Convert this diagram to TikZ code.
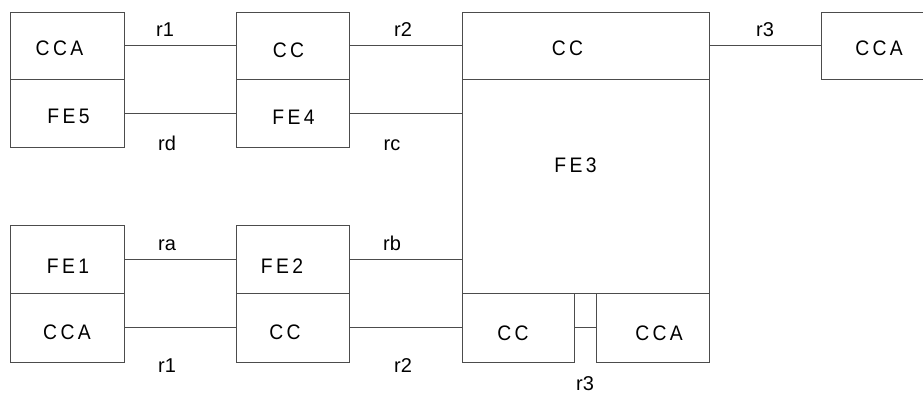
\documentclass[tikz,border=0pt]{standalone}
\usepackage{fontspec}
\setmainfont{Liberation Sans}
\newfontfamily\boxfont[LetterSpace=16,FakeStretch=0.92]{Liberation Sans}
\usetikzlibrary{calc}
\begin{document}
\begin{tikzpicture}[x=1pt,y=-1pt,
  box/.style={draw=black!70,line width=0.9pt,rectangle,inner sep=0pt,outer sep=0pt},
  wire/.style={draw=black!70,line width=0.9pt},
  btxt/.style={anchor=base,inner sep=0pt,font=\fontsize{21}{24}\boxfont},
  rtxt/.style={anchor=base,inner sep=0pt,font=\fontsize{20}{24}\selectfont}]
\useasboundingbox (0,0) rectangle (923,394);
\clip (0,0) rectangle (923,394);
\fill[white] (0,0) rectangle (923,394);
% boxes
\node[box,minimum width=114pt,minimum height=67pt] (cca1) at (67,45.5) {};
\node[box,minimum width=114pt,minimum height=68pt] (fe5) at (67,113) {};
\node[box,minimum width=113pt,minimum height=67pt] (cc1) at (292.5,45.5) {};
\node[box,minimum width=113pt,minimum height=68pt] (fe4) at (292.5,113) {};
\node[box,minimum width=114pt,minimum height=68pt] (fe1) at (67,259) {};
\node[box,minimum width=114pt,minimum height=69pt] (cca2) at (67,327.5) {};
\node[box,minimum width=113pt,minimum height=68pt] (fe2) at (292.5,259) {};
\node[box,minimum width=113pt,minimum height=69pt] (cc2) at (292.5,327.5) {};
\node[box,minimum width=247pt,minimum height=67pt] (bigcc) at (585.5,45.5) {};
\node[box,minimum width=247pt,minimum height=214pt] (fe3) at (585.5,186) {};
\node[box,minimum width=112pt,minimum height=69pt] (cc3) at (518,327.5) {};
\node[box,minimum width=113pt,minimum height=69pt] (cca3) at (652.5,327.5) {};
\node[box,minimum width=114pt,minimum height=67pt] (cca4) at (878,45.5) {};
% box texts
\node[btxt] (tcca1) at (59.5,55) {CCA};
\node[btxt] (tfe5) at (68.5,123) {FE5};
\node[btxt] (tcc1) at (288.5,57) {CC};
\node[btxt] (tfe4) at (293.5,124) {FE4};
\node[btxt] (tfe1) at (68,273) {FE1};
\node[btxt] (tcca2) at (67,339) {CCA};
\node[btxt] (tfe2) at (282,273) {FE2};
\node[btxt] (tcc2) at (285,339) {CC};
\node[btxt] (tbigcc) at (567.5,55) {CC};
\node[btxt] (tfe3) at (575.5,172) {FE3};
\node[btxt] (tcc3) at (513,340) {CC};
\node[btxt] (tcca3) at (659,340) {CCA};
\node[btxt] (tcca4) at (879,55) {CCA};
% connectors
\draw[wire] (cca1.east) -- (cc1.west);
\draw[wire] (fe5.east) -- (fe4.west);
\draw[wire] (cc1.east) -- (bigcc.west);
\draw[wire] (fe4.east) -- (fe4.east -| fe3.west);
\draw[wire] (bigcc.east) -- (cca4.west);
\draw[wire] (fe1.east) -- (fe2.west);
\draw[wire] (cca2.east) -- (cc2.west);
\draw[wire] (fe2.east) -- (fe2.east -| fe3.west);
\draw[wire] (cc2.east) -- (cc3.west);
\draw[wire] (cc3.east) -- (cca3.west);
% connector labels
\node[rtxt] (lr1a) at (165,36) {r1};
\node[rtxt] (lrd) at (167,150) {rd};
\node[rtxt] (lr2a) at (403,36) {r2};
\node[rtxt] (lrc) at (392,150) {rc};
\node[rtxt] (lr3a) at (765,36) {r3};
\node[rtxt] (lra) at (167,250) {ra};
\node[rtxt] (lr1b) at (167,372) {r1};
\node[rtxt] (lrb) at (392,250) {rb};
\node[rtxt] (lr2b) at (403,372) {r2};
\node[rtxt] (lr3b) at (585,390) {r3};
\end{tikzpicture}
\end{document}
